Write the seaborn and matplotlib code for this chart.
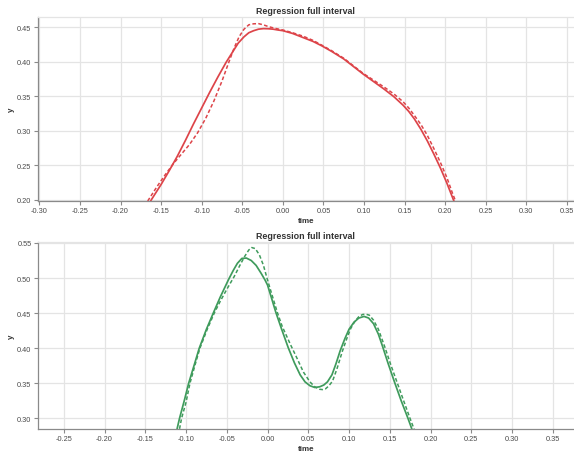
import numpy as np
import pandas as pd
import matplotlib
matplotlib.use("Agg")
import matplotlib.pyplot as plt
import seaborn as sns

# ---- data ----
top_fit_t = [-0.163, -0.150, -0.140, -0.130, -0.120, -0.110, -0.100, -0.090, -0.080, -0.070,
             -0.062, -0.055, -0.048, -0.042, -0.036, -0.030, -0.024, -0.018, -0.012, -0.006,
             0.000, 0.012, 0.025, 0.037, 0.048, 0.060, 0.075, 0.087, 0.099, 0.112,
             0.125, 0.137, 0.148, 0.155, 0.162, 0.170, 0.178, 0.186, 0.194, 0.202,
             0.209, 0.211]
top_fit_y = [0.198, 0.222, 0.242, 0.263, 0.286, 0.310, 0.333, 0.356, 0.378, 0.399,
             0.414, 0.427, 0.436, 0.442, 0.445, 0.4472, 0.448, 0.4478, 0.4472, 0.446,
             0.445, 0.441, 0.435, 0.4295, 0.423, 0.415, 0.404, 0.393, 0.382, 0.371,
             0.360, 0.349, 0.337, 0.328, 0.317, 0.302, 0.285, 0.266, 0.246, 0.224,
             0.203, 0.197]
top_ref_t = [-0.1665, -0.155, -0.145, -0.135, -0.125, -0.115, -0.105, -0.095, -0.085, -0.075,
             -0.067, -0.060, -0.054, -0.048, -0.042, -0.036, -0.030, -0.024, -0.018, -0.010,
             0.000, 0.012, 0.025, 0.037, 0.048, 0.060, 0.075, 0.087, 0.099, 0.112,
             0.125, 0.137, 0.148, 0.155, 0.162, 0.170, 0.178, 0.186, 0.194, 0.202,
             0.209, 0.213]
top_ref_y = [0.198, 0.219, 0.236, 0.252, 0.266, 0.280, 0.297, 0.318, 0.343, 0.372,
             0.398, 0.420, 0.436, 0.447, 0.4535, 0.455, 0.4552, 0.4535, 0.451, 0.4485,
             0.446, 0.442, 0.437, 0.431, 0.424, 0.416, 0.405, 0.394, 0.383, 0.373,
             0.363, 0.353, 0.342, 0.333, 0.322, 0.309, 0.293, 0.274, 0.254, 0.232,
             0.209, 0.197]

bot_fit_t = [-0.111, -0.108, -0.102, -0.0968, -0.090, -0.0838, -0.075, -0.0666, -0.058, -0.0478,
             -0.042, -0.037, -0.0315, -0.026, -0.020, -0.014, -0.008, -0.003, 0.000, 0.005,
             0.0102, 0.017, 0.0253, 0.033, 0.040, 0.046, 0.052, 0.058, 0.064, 0.069,
             0.0735, 0.079, 0.084, 0.089, 0.095, 0.100, 0.106, 0.112, 0.1184, 0.124,
             0.130, 0.136, 0.141, 0.148, 0.156, 0.164, 0.1723, 0.177]
bot_fit_y = [0.285, 0.300, 0.326, 0.350, 0.376, 0.400, 0.427, 0.450, 0.473, 0.498,
             0.511, 0.521, 0.528, 0.5285, 0.525, 0.518, 0.507, 0.497, 0.490, 0.471,
             0.451, 0.428, 0.401, 0.379, 0.362, 0.352, 0.3465, 0.344, 0.345, 0.3475,
             0.352, 0.362, 0.378, 0.396, 0.414, 0.427, 0.437, 0.443, 0.4453, 0.443,
             0.435, 0.420, 0.403, 0.378, 0.351, 0.325, 0.300, 0.285]
bot_ref_t = [-0.108, -0.1055, -0.100, -0.0952, -0.089, -0.083, -0.074, -0.0654, -0.058, -0.050,
             -0.041, -0.034, -0.028, -0.023, -0.0195, -0.015, -0.010, -0.005, 0.000, 0.006,
             0.012, 0.018, 0.0286, 0.036, 0.044, 0.052, 0.058, 0.0635, 0.0674, 0.071,
             0.075, 0.0797, 0.085, 0.0919, 0.097, 0.102, 0.107, 0.112, 0.1165, 0.1205,
             0.125, 0.130, 0.136, 0.1438, 0.151, 0.159, 0.167, 0.1748, 0.180]
bot_ref_y = [0.285, 0.300, 0.323, 0.350, 0.376, 0.400, 0.427, 0.450, 0.467, 0.484,
             0.502, 0.518, 0.531, 0.540, 0.5435, 0.542, 0.533, 0.518, 0.497, 0.474,
             0.451, 0.431, 0.404, 0.386, 0.366, 0.352, 0.345, 0.3415, 0.341, 0.342,
             0.346, 0.353, 0.370, 0.396, 0.413, 0.428, 0.438, 0.445, 0.448, 0.4486,
             0.447, 0.440, 0.427, 0.402, 0.377, 0.351, 0.325, 0.300, 0.284]

title_text = "Regression full interval"
top_xticks = [-0.30, -0.25, -0.20, -0.15, -0.10, -0.05, 0.00, 0.05, 0.10, 0.15, 0.20, 0.25, 0.30, 0.35]
top_yticks = [0.20, 0.25, 0.30, 0.35, 0.40, 0.45]
bot_xticks = [-0.25, -0.20, -0.15, -0.10, -0.05, 0.00, 0.05, 0.10, 0.15, 0.20, 0.25, 0.30, 0.35]
bot_yticks = [0.30, 0.35, 0.40, 0.45, 0.50, 0.55]

RED = "#dd4449"
GREEN = "#3f9b5c"

sns.set_theme(style="whitegrid")
plt.rcParams['font.family'] = ['Liberation Sans', 'DejaVu Sans']

fig = plt.figure(figsize=(5.74, 4.56), dpi=100)
ax1 = fig.add_axes([0.0657, 0.557, 0.9343, 0.403])
ax2 = fig.add_axes([0.0657, 0.057, 0.9343, 0.4095])

def draw(ax, ft, fy, rt, ry, color, xlim, ylim, xticks, yticks):
    df_fit = pd.DataFrame({"time": ft, "y": fy})
    df_ref = pd.DataFrame({"time": rt, "y": ry})
    sns.lineplot(data=df_fit, x="time", y="y", ax=ax, color=color, lw=1.25, sort=False)
    sns.lineplot(data=df_ref, x="time", y="y", ax=ax, color=color, lw=1.1, sort=False,
                 linestyle=(0, (2.4, 1.5)))
    ax.set_xlim(*xlim)
    ax.set_ylim(*ylim)
    ax.set_xticks(xticks)
    ax.set_yticks(yticks)
    ax.set_xticklabels([f"{v:.2f}" for v in xticks])
    ax.set_yticklabels([f"{v:.2f}" for v in yticks])
    ax.grid(True, color="#e4e4e4", lw=0.9)
    ax.set_facecolor("white")
    for s in ["left", "bottom"]:
        ax.spines[s].set_color("#8a8a8a")
        ax.spines[s].set_linewidth(0.9)
        ax.spines[s].set_visible(True)
    ax.spines["top"].set_color("#e4e4e4")
    ax.spines["top"].set_linewidth(0.9)
    ax.spines["right"].set_visible(False)
    ax.tick_params(axis="both", which="both", length=3, width=0.8, color="#8a8a8a",
                   labelsize=5.3, labelcolor="#4a4a4a", pad=1.5, direction="out",
                   bottom=True, left=True)
    ax.set_title(title_text, fontsize=6.4, fontweight="bold", color="#333333", pad=3)
    ax.set_xlabel("time", fontsize=5.8, fontweight="bold", color="#333333", labelpad=2)
    ax.set_ylabel("y", fontsize=5.8, fontweight="bold", color="#333333", labelpad=1.5)

draw(ax1, top_fit_t, top_fit_y, top_ref_t, top_ref_y, RED,
     (-0.302, 0.3586), (0.198, 0.4645), top_xticks, top_yticks)
draw(ax2, bot_fit_t, bot_fit_y, bot_ref_t, bot_ref_y, GREEN,
     (-0.282, 0.376), (0.2848, 0.551), bot_xticks, bot_yticks)

fig.savefig("out.png", dpi=100, facecolor="white")
